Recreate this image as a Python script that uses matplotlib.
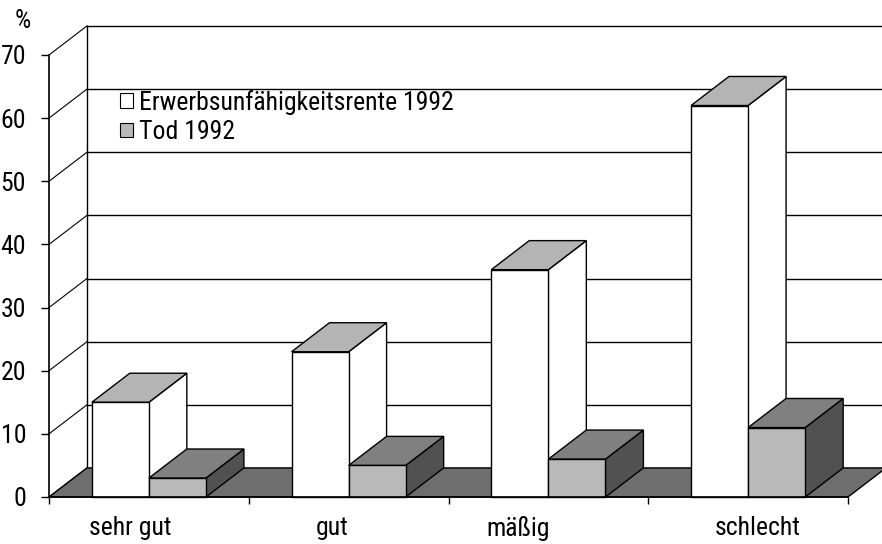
import matplotlib
matplotlib.use("Agg")
import matplotlib.pyplot as plt
from matplotlib.patches import Polygon, Rectangle, Patch
from matplotlib import font_manager as fm

# ---- data -------------------------------------------------------------
categories = ["sehr gut", "gut", "mäßig", "schlecht"]
erwerbsunfaehigkeit = [15, 23, 36, 62]   # Erwerbsunfähigkeitsrente 1992 (%)
tod = [3, 5, 6, 11]                      # Tod 1992 (%)
series_names = ["Erwerbsunfähigkeitsrente 1992", "Tod 1992"]
y_ticks = [0, 10, 20, 30, 40, 50, 60, 70]
label_pos = [0.405, 1.417, 2.348, 3.549]  # category label anchors


def pick_font(names):
    for n in names:
        try:
            fm.findfont(fm.FontProperties(family=n), fallback_to_default=False)
            return n
        except Exception:
            pass
    return "DejaVu Sans"


FONT = pick_font(["Liberation Sans Narrow", "Roboto Condensed", "Liberation Sans"])
plt.rcParams["font.family"] = [FONT, "DejaVu Sans"]
FS = 18.5

# ---- styling ----------------------------------------------------------
DX, DY = 0.19, 4.6            # depth offset of the pseudo-3D box
GAP_W = 1.5                    # gap width relative to a bar
W = 1.0 / (2 + GAP_W)          # bar width in category units
LW = 1.0
C_FLOOR = "#6e6e6e"
C_WHITE_FRONT, C_WHITE_TOP, C_WHITE_SIDE = "#ffffff", "#b4b4b4", "#ffffff"
C_GRAY_FRONT, C_GRAY_TOP, C_GRAY_SIDE = "#b9b9b9", "#808080", "#515151"

fig = plt.figure(figsize=(8.82, 5.44), dpi=100)
ax = fig.add_axes([0, 0, 1, 1])
ax.set_xlim(-0.2453, 4.1702)
ax.set_ylim(-7.444, 78.71)
ax.set_facecolor("white")

n = len(categories)
ymax = y_ticks[-1]
xr = ax.get_xlim()[1] + 0.5

z = 1
# back wall
ax.add_patch(Rectangle((DX, DY), xr - DX, ymax, fc="white", ec="none", zorder=z))
for v in y_ticks:
    ax.plot([DX, xr], [v + DY, v + DY], color="black", lw=LW, zorder=z + 0.1)
    # side wall gridlines
    ax.plot([0, DX], [v, v + DY], color="black", lw=LW * 0.8, zorder=z + 0.1)
ax.plot([DX, DX], [DY, ymax + DY], color="black", lw=LW, zorder=z + 0.1)

# floor
z = 2
ax.add_patch(Polygon([(0, 0), (n, 0), (n + DX, DY), (DX, DY)], closed=True,
                     fc=C_FLOOR, ec="black", lw=LW, zorder=z))


def bar3d(x0, h, front, top, side, zo):
    x1 = x0 + W
    ax.add_patch(Polygon([(x1, 0), (x1 + DX, DY), (x1 + DX, h + DY), (x1, h)],
                         closed=True, fc=side, ec="black", lw=LW, zorder=zo))
    ax.add_patch(Polygon([(x0, h), (x1, h), (x1 + DX, h + DY), (x0 + DX, h + DY)],
                         closed=True, fc=top, ec="black", lw=LW, zorder=zo))
    ax.add_patch(Rectangle((x0, 0), W, h, fc=front, ec="black", lw=LW, zorder=zo))


z = 3
for i in range(n):
    xa = i + GAP_W * W / 2
    bar3d(xa, erwerbsunfaehigkeit[i], C_WHITE_FRONT, C_WHITE_TOP, C_WHITE_SIDE, z)
    z += 1
    bar3d(xa + W, tod[i], C_GRAY_FRONT, C_GRAY_TOP, C_GRAY_SIDE, z)
    z += 1

# ---- axes ---------------------------------------------------------------
for s in ["top", "right"]:
    ax.spines[s].set_visible(False)
ax.spines["left"].set_position(("data", 0))
ax.spines["left"].set_bounds(0, ymax)
ax.spines["bottom"].set_position(("data", 0))
ax.spines["bottom"].set_bounds(0, n)
for s in ["left", "bottom"]:
    ax.spines[s].set_linewidth(1.2)
    ax.spines[s].set_zorder(50)

ax.set_yticks(y_ticks)
ax.set_yticklabels([str(v) for v in y_ticks], fontsize=FS)
ax.tick_params(axis="y", direction="out", length=6, width=1, pad=10.5)

ax.set_xticks(label_pos)
ax.set_xticklabels(categories, fontsize=FS)
ax.set_xticks(list(range(n + 1)), minor=True)
ax.tick_params(axis="x", which="major", length=0, pad=14)
ax.tick_params(axis="x", which="minor", direction="out", length=5, width=1)

fig.text(23 / 882, 1 - 21 / 544, "%", fontsize=FS, ha="center", va="center")

handles = [Patch(fc=C_WHITE_FRONT, ec="black", lw=0.8),
           Patch(fc=C_GRAY_FRONT, ec="black", lw=0.8)]
ax.legend(handles, series_names, loc="upper left", frameon=False,
          bbox_to_anchor=(120 / 882, 1 - 90 / 544), bbox_transform=fig.transFigure,
          fontsize=FS, handlelength=0.5, handleheight=0.5, handletextpad=0.25,
          labelspacing=0.2, borderpad=0, borderaxespad=0)

fig.savefig("out.png", dpi=100)
